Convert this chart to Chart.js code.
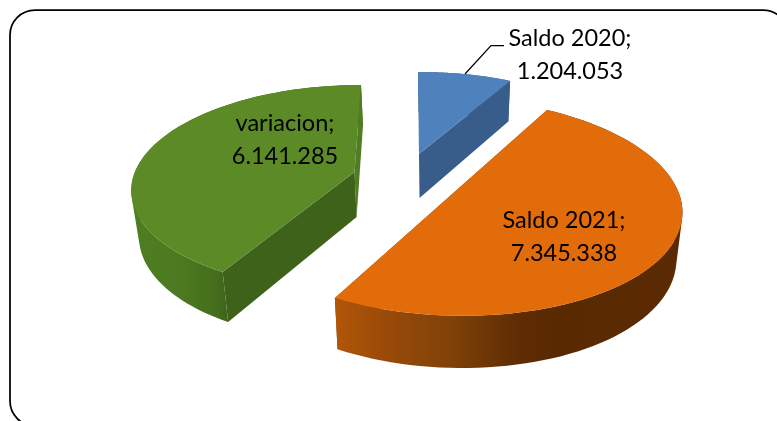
<!DOCTYPE html>
<html>
<head>
<meta charset="utf-8">
<title>Saldo</title>
<script src="https://cdn.jsdelivr.net/npm/chart.js@4"></script>
<style>
    html, body { margin: 0; padding: 0; background: #fff; overflow: hidden; }
    canvas { display: block; }
</style>
</head>
<body>
<canvas id="pie" width="777" height="421"></canvas>
<script>
    const categories = ['Saldo 2020', 'Saldo 2021', 'variacion'];
    const saldoValues = [1204053, 7345338, 6141285];

    const topColors = ['#4f81bd', '#e26b0a', '#5b8a27'];
    const firstFaceColors = ['#2f4f76', '#8a4508', '#3f621a'];
    const lastFaceColors = ['#385d8a', '#8a4508', '#4f7d22'];
    const wallStops = [
        [[0, '#385d8a'], [1, '#385d8a']],
        [[0, '#b05608'], [0.14, '#9a4a08'], [0.33, '#804208'], [0.53, '#5f2c04'], [0.65, '#592a02'], [1, '#5c2a02']],
        [[0, '#4f7d22'], [0.5, '#4d7a20'], [0.88, '#446e1c'], [1, '#3f651a']]
    ];
    const wallRange = [[419, 510], [337, 680], [132, 226]];

    // how each exploded slice sits in the tilted view (a 3D pie, seen in perspective)
    const views = [
        { cx: 419, cy: 154, a: 203, b: -2.2, c: 1.1, d: 90, h: -0.1 },
        { cx: 450.2, cy: 195.8, a: 230, b: 1.3, c: 9.2, d: 108, h: -0.1 },
        { cx: 354.5, cy: 172, a: 219.5, b: 0.2, c: -7.475, d: 100.05, h: -0.15 }
    ];
    const labelSpots = [[570, 46], [564, 228], [285, 131]];
    const lineGap = 32.5;

    function project(view, ux, uy) {
        const w = 1 + view.h * uy;
        return {
            x: view.cx + (view.a * ux + view.c * uy) / w,
            y: view.cy + (view.b * ux + view.d * uy) / w
        };
    }

    // bottom edge of the pie: side walls converge slightly and get taller toward the viewer
    function drop(p) {
        return { x: p.x + (440 - p.x) * 0.025, y: p.y + 45 + (p.y - 172) * 0.05 };
    }

    function fillPoly(ctx, pts, fill) {
        ctx.beginPath();
        pts.forEach((p, i) => i ? ctx.lineTo(p.x, p.y) : ctx.moveTo(p.x, p.y));
        ctx.closePath();
        ctx.fillStyle = fill;
        ctx.fill();
    }

    // all strips in one path, same winding, so they merge without seams
    function fillWall(ctx, rim, fill) {
        ctx.beginPath();
        for (let s = 0; s < rim.length - 1; s++) {
            const a = rim[s], b = rim[s + 1], c = drop(b), d = drop(a);
            let quad = [a, b, c, d];
            const area = (b.x - a.x) * (d.y - a.y) - (b.y - a.y) * (d.x - a.x);
            if (area < 0) quad = [d, c, b, a];
            quad.forEach((p, i) => i ? ctx.lineTo(p.x, p.y) : ctx.moveTo(p.x, p.y));
            ctx.closePath();
        }
        ctx.fillStyle = fill;
        ctx.fill();
    }

    const pie3d = {
        id: 'pie3d',
        beforeDraw(chart) {
            const ctx = chart.ctx;
            ctx.save();
            ctx.strokeStyle = '#000';
            ctx.lineWidth = 1.75;
            ctx.beginPath();
            ctx.roundRect(10, 10, 778, 416, 25);
            ctx.stroke();
            ctx.restore();
        },
        beforeDatasetDraw(chart, args) {
            const ctx = chart.ctx;
            const arcs = chart.getDatasetMeta(args.index).data;
            arcs.forEach((arc, i) => {
                const view = views[i];
                const rim = [];
                for (let s = 0; s <= 80; s++) {
                    const t = arc.startAngle + (arc.endAngle - arc.startAngle) * s / 80;
                    rim.push(project(view, Math.cos(t), Math.sin(t)));
                }
                const center = project(view, 0, 0);
                const first = rim[0];
                const last = rim[rim.length - 1];

                const grad = ctx.createLinearGradient(wallRange[i][0], 0, wallRange[i][1], 0);
                wallStops[i].forEach(s => grad.addColorStop(s[0], s[1]));
                const drawFaces = () => {
                    fillPoly(ctx, [center, last, drop(last), drop(center)], lastFaceColors[i]);
                    fillPoly(ctx, [center, first, drop(first), drop(center)], firstFaceColors[i]);
                };

                // a wall facing the viewer goes over the cut faces, one at the back goes under them
                const mid = (arc.startAngle + arc.endAngle) / 2;
                if (Math.sin(mid) > 0) {
                    drawFaces();
                    fillWall(ctx, rim, grad);
                } else {
                    fillWall(ctx, rim, grad);
                    drawFaces();
                }

                fillPoly(ctx, [center].concat(rim), topColors[i]);
            });
            return false;
        },
        afterDraw(chart) {
            const ctx = chart.ctx;
            ctx.save();
            // leader line of the small slice
            ctx.strokeStyle = '#000';
            ctx.lineWidth = 1.25;
            ctx.beginPath();
            ctx.moveTo(465, 74);
            ctx.lineTo(491, 45.5);
            ctx.lineTo(504, 45.5);
            ctx.stroke();

            ctx.fillStyle = '#000';
            ctx.font = '23.5px Lato';
            ctx.textAlign = 'center';
            ctx.textBaseline = 'alphabetic';
            categories.forEach((name, i) => {
                const spot = labelSpots[i];
                ctx.fillText(name + ';', spot[0], spot[1]);
                ctx.fillText(saldoValues[i].toLocaleString('de-DE'), spot[0], spot[1] + lineGap);
            });
            ctx.restore();
        }
    };

    new Chart(document.getElementById('pie').getContext('2d'), {
        type: 'pie',
        data: {
            labels: categories,
            datasets: [{ data: saldoValues, backgroundColor: topColors, borderWidth: 0 }]
        },
        options: {
            responsive: false,
            animation: false,
            events: [],
            plugins: { legend: { display: false }, tooltip: { enabled: false } }
        },
        plugins: [pie3d]
    });
</script>
</body>
</html>
